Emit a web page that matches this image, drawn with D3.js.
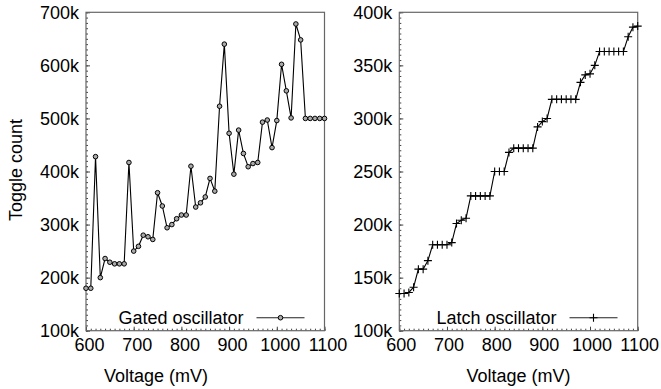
<!DOCTYPE html>
<html>
<head>
<meta charset="utf-8">
<script src="https://cdn.jsdelivr.net/npm/d3@7"></script>
<style>
  body { margin: 0; background: #fff; }
  svg { display: block; }
  text { font-family: "Liberation Sans", Arial, sans-serif; }
</style>
</head>
<body>
<svg width="661" height="389"></svg>
<script>
// voltage steps (mV)
const voltages = [600, 610, 620, 630, 640, 650, 660, 670, 680, 690,
  700, 710, 720, 730, 740, 750, 760, 770, 780, 790,
  800, 810, 820, 830, 840, 850, 860, 870, 880, 890,
  900, 910, 920, 930, 940, 950, 960, 970, 980, 990,
  1000, 1010, 1020, 1030, 1040, 1050, 1060, 1070, 1080, 1090, 1100];

// toggle counts, in thousands
const gatedCounts = [180, 180, 428, 200, 236, 229, 226, 226, 226, 417,
  250, 259, 280, 277, 272, 360, 335, 294, 300, 311,
  318, 318, 410, 333, 341, 352, 387, 363, 523, 640,
  472, 395, 478, 434, 409, 415, 417, 493, 497, 445,
  496, 602, 552, 501, 678, 648, 500, 500, 500, 500, 500];

const latchCounts = [135, 135, 136, 141, 158, 158, 166, 181, 181, 181,
  181, 183, 201, 204, 206, 227, 227, 227, 227, 227,
  250, 250, 250, 268, 272, 272, 272, 272, 272, 292,
  297, 300, 318, 318, 318, 318, 318, 318, 334, 341,
  342, 350, 363, 363, 363, 363, 363, 363, 377, 386, 387];

const xTicks = [600, 700, 800, 900, 1000, 1100];
const gatedYTicks = [100, 200, 300, 400, 500, 600, 700];
const latchYTicks = [100, 150, 200, 250, 300, 350, 400];

const svg = d3.select("svg");
const plotTop = 12.3, plotBottom = 330.7;

function panel(cfg) {
  const x = d3.scaleLinear().domain([600, 1100]).range([cfg.left, cfg.right]);
  const y = d3.scaleLinear().domain(cfg.yDomain).range([plotBottom, plotTop]);
  const g = svg.append("g");

  // minor ticks
  g.append("g")
    .attr("transform", `translate(0,${plotBottom})`)
    .call(d3.axisBottom(x).tickValues(d3.range(600, 1101, 10)).tickSize(-2).tickFormat(""))
    .call(a => a.select(".domain").remove())
    .call(a => a.selectAll("line").attr("stroke", "#444"));
  g.append("g")
    .attr("transform", `translate(${cfg.left},0)`)
    .call(d3.axisLeft(y).tickValues(d3.range(cfg.yDomain[0], cfg.yDomain[1] + 1, cfg.yMinor)).tickSize(-2).tickFormat(""))
    .call(a => a.select(".domain").remove())
    .call(a => a.selectAll("line").attr("stroke", "#444"));

  // major ticks + labels
  g.append("g")
    .attr("transform", `translate(0,${plotBottom})`)
    .call(d3.axisBottom(x).tickValues(xTicks).tickSize(-4).tickPadding(7.5).tickFormat(d => String(d)))
    .call(a => a.select(".domain").remove())
    .call(a => a.selectAll("line").attr("stroke", "#444"))
    .call(a => a.selectAll("text").attr("font-size", 18).attr("fill", "#000")
      .attr("font-family", "Liberation Sans, Arial, sans-serif").attr("dx", cfg.labelDx));
  g.append("g")
    .attr("transform", `translate(${cfg.left},0)`)
    .call(d3.axisLeft(y).tickValues(cfg.yTicks).tickSize(-4).tickPadding(7).tickFormat(d => d + "k"))
    .call(a => a.select(".domain").remove())
    .call(a => a.selectAll("line").attr("stroke", "#444"))
    .call(a => a.selectAll("text").attr("font-size", 18).attr("fill", "#000")
      .attr("font-family", "Liberation Sans, Arial, sans-serif"));

  // frame
  g.append("rect")
    .attr("x", cfg.left).attr("y", plotTop)
    .attr("width", cfg.right - cfg.left).attr("height", plotBottom - plotTop)
    .attr("fill", "none").attr("stroke", "#666").attr("stroke-width", 1.2);

  // series line
  const pts = voltages.map((v, i) => [v, cfg.values[i]]);
  g.append("path")
    .datum(pts)
    .attr("fill", "none").attr("stroke", "#000").attr("stroke-width", 1.1)
    .attr("d", d3.line().x(d => x(d[0])).y(d => y(d[1])));

  const drawMarker = (sel) => {
    if (cfg.marker === "circle") {
      sel.append("circle").attr("r", 2.3)
        .attr("fill", "#aaa").attr("stroke", "#000").attr("stroke-width", 1);
    } else {
      sel.append("path").attr("d", "M-4,0H4M0,-4V4")
        .attr("stroke", "#000").attr("stroke-width", 1.1);
    }
  };

  g.append("g").selectAll("g")
    .data(pts)
    .join("g")
    .attr("transform", d => `translate(${x(d[0])},${y(d[1])})`)
    .each(function() { drawMarker(d3.select(this)); });

  // legend
  const ly = 317.7;
  g.append("text")
    .attr("x", cfg.legendEnd).attr("y", ly).attr("dy", "0.35em")
    .attr("text-anchor", "end").attr("font-size", 18).attr("fill", "#000")
    .text(cfg.label);
  g.append("line")
    .attr("x1", cfg.legendEnd + 13).attr("x2", cfg.legendEnd + 61)
    .attr("y1", ly).attr("y2", ly)
    .attr("stroke", "#222").attr("stroke-width", 1.1);
  const lm = g.append("g").attr("transform", `translate(${cfg.legendEnd + 37},${ly})`);
  drawMarker(lm);

  // x label
  g.append("text")
    .attr("x", cfg.xLabelX).attr("y", 381.7)
    .attr("text-anchor", "middle").attr("font-size", 18).attr("fill", "#000")
    .text("Voltage (mV)");
}

panel({
  left: 86, right: 324.5,
  yDomain: [100, 700], yTicks: gatedYTicks, yMinor: 10,
  values: gatedCounts, marker: "circle",
  label: "Gated oscillator", legendEnd: 243.5,
  xLabelX: 156, labelDx: 3
});

panel({
  left: 399.3, right: 637.7,
  yDomain: [100, 400], yTicks: latchYTicks, yMinor: 5,
  values: latchCounts, marker: "plus",
  label: "Latch oscillator", legendEnd: 556.5,
  xLabelX: 518.5, labelDx: 1.5
});

svg.append("text")
  .attr("transform", "translate(22,170) rotate(-90)")
  .attr("text-anchor", "middle").attr("font-size", 18).attr("fill", "#000")
  .text("Toggle count");
</script>
</body>
</html>
